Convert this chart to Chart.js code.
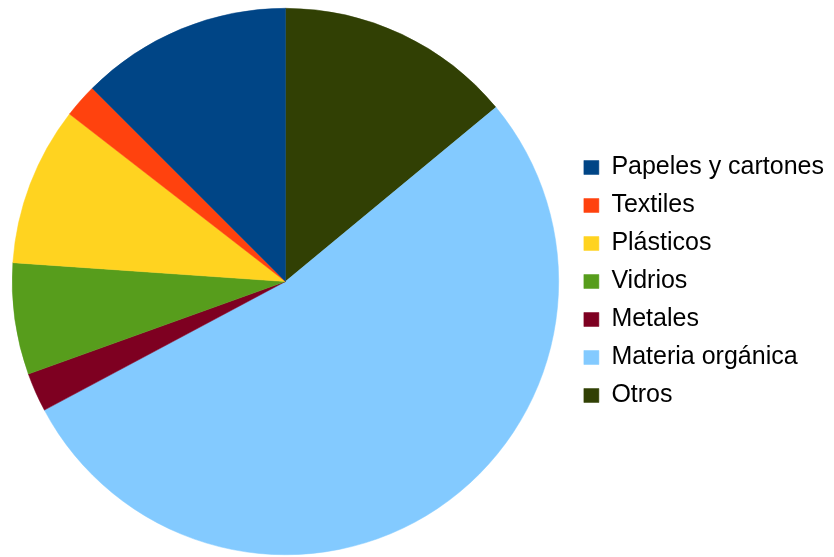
<!DOCTYPE html>
<html>
<head>
<meta charset="utf-8">
<script src="https://cdn.jsdelivr.net/npm/chart.js@4"></script>
<style>
  html, body { margin: 0; padding: 0; background: #fff; }
  #wrap { width: 834px; height: 557px; position: relative; }
</style>
</head>
<body>
<div id="wrap"><canvas id="residuosChart"></canvas></div>
<script>
// Composición de residuos (%), in legend order
const categories = ['Papeles y cartones', 'Textiles', 'Plásticos', 'Vidrios', 'Metales', 'Materia orgánica', 'Otros'];
const shares = [12.5, 2.0, 9.4, 6.6, 2.3, 53.2, 14.0];
const colors = ['#004586', '#ff420e', '#ffd320', '#579d1c', '#7e0021', '#83caff', '#314004'];

// the original pie runs counter-clockwise from 12 o'clock; Chart.js runs clockwise,
// so feed it reversed and flip the legend back
const labelsRev = categories.slice().reverse();
const sharesRev = shares.slice().reverse();
const colorsRev = colors.slice().reverse();

document.addEventListener("DOMContentLoaded", function() {
  const ctx = document.getElementById('residuosChart').getContext('2d');
  new Chart(ctx, {
    type: 'pie',
    data: {
      labels: labelsRev,
      datasets: [{
        data: sharesRev,
        backgroundColor: colorsRev,
        borderColor: colorsRev,
        borderWidth: 0.5
      }]
    },
    options: {
      responsive: true,
      maintainAspectRatio: false,
      animation: false,
      layout: {
        padding: { top: 8, bottom: 2, left: 0, right: 0 }
      },
      plugins: {
        tooltip: { enabled: false },
        legend: {
          position: 'right',
          reverse: true,
          labels: {
            color: '#000',
            boxWidth: 15,
            boxHeight: 14,
            padding: 13,
            font: { family: 'Liberation Sans', size: 25 }
          }
        }
      }
    }
  });
});
</script>
</body>
</html>
